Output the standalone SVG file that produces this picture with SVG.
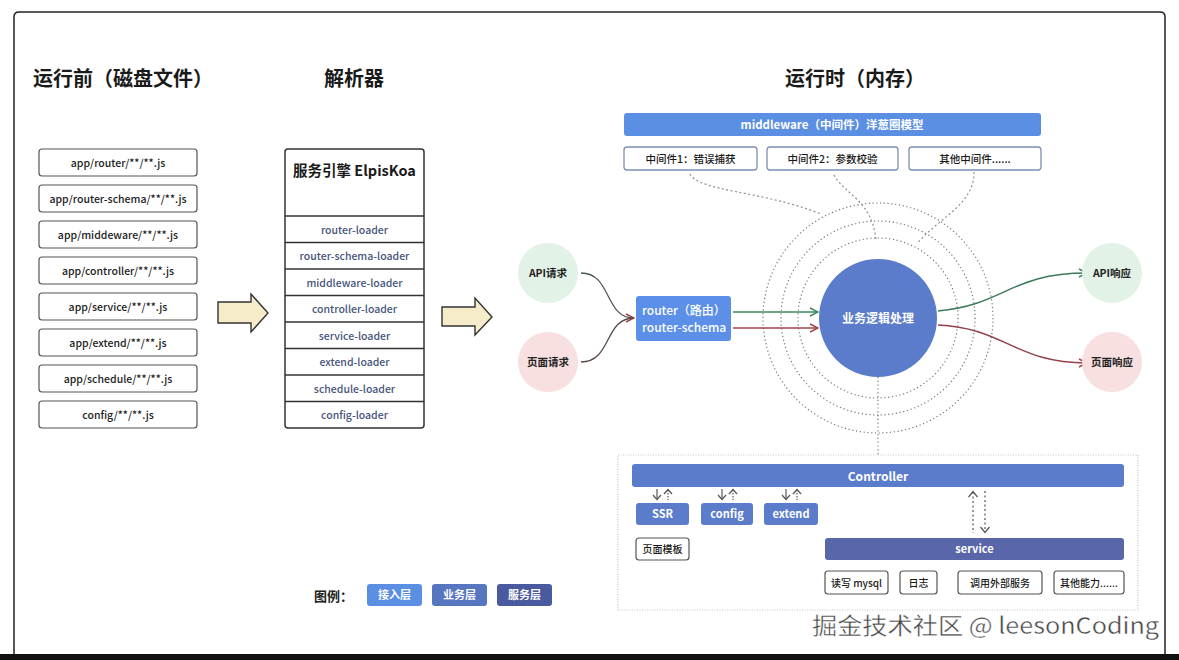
<svg xmlns="http://www.w3.org/2000/svg" width="1179" height="660" viewBox="0 0 1179 660">
<style>
text{font-family:"Noto Sans CJK SC","Noto Sans",sans-serif;}
.title{font-size:20px;font-weight:bold;fill:#1a1a1a;}
.fbox{fill:#fff;stroke:#555;stroke-width:1.2;}
.ft{font-size:10.5px;fill:#222;text-anchor:middle;font-weight:500;}
.lt{font-size:10.5px;fill:#46557a;text-anchor:middle;font-weight:500;}
.mbox{fill:#fff;stroke:#7d8fb2;stroke-width:1.3;}
.mt{font-size:10.5px;fill:#1a1a1a;text-anchor:middle;font-weight:500;}
.wt{fill:#fff;text-anchor:middle;font-weight:bold;}
.ring{fill:none;stroke:#777;stroke-width:1.2;stroke-dasharray:1.2 2.6;}
.dash{fill:none;stroke:#8a8f99;stroke-width:1.2;stroke-dasharray:2 2.5;}
.wbox{fill:#fff;stroke:#555;stroke-width:1.2;}
.st{font-size:10px;fill:#1a1a1a;text-anchor:middle;font-weight:500;}
.biz{fill:#5a7ccb;}
.arrow{fill:#f6ecca;stroke:#333;stroke-width:1.4;stroke-linejoin:miter;}
</style>
<defs>
<marker id="mg" viewBox="0 0 10 10" refX="9" refY="5" markerWidth="10" markerHeight="10" markerUnits="userSpaceOnUse" orient="auto"><path d="M1,1 L9,5 L1,9" fill="none" stroke="#3d8a5c" stroke-width="1.5"/></marker>
<marker id="mr" viewBox="0 0 10 10" refX="9" refY="5" markerWidth="10" markerHeight="10" markerUnits="userSpaceOnUse" orient="auto"><path d="M1,1 L9,5 L1,9" fill="none" stroke="#a5444a" stroke-width="1.5"/></marker>
<linearGradient id="yg" x1="0" y1="0" x2="1" y2="0"><stop offset="0" stop-color="#f9f1d2"/><stop offset="1" stop-color="#f1e2b6"/></linearGradient>
</defs>

<rect width="1179" height="660" fill="#fff"/>
<path d="M14,654 L14,17 Q14,12 19,12 L1160,12 Q1165,12 1165,17 L1165,654" fill="none" stroke="#222" stroke-width="1.5"/>
<rect x="0" y="654" width="1179" height="6" fill="#111"/>

<text class="title" x="33" y="86">运行前（磁盘文件）</text>
<text class="title" x="354" y="86" text-anchor="middle">解析器</text>
<text class="title" x="855" y="86" text-anchor="middle">运行时（内存）</text>

<g id="files">
<rect class="fbox" x="39" y="149" width="158" height="27" rx="3"/><text class="ft" x="118" y="166.5">app/router/**/**.js</text>
<rect class="fbox" x="39" y="185" width="158" height="27" rx="3"/><text class="ft" x="118" y="202.5">app/router-schema/**/**.js</text>
<rect class="fbox" x="39" y="221" width="158" height="27" rx="3"/><text class="ft" x="118" y="238.5">app/middeware/**/**.js</text>
<rect class="fbox" x="39" y="257" width="158" height="27" rx="3"/><text class="ft" x="118" y="274.5">app/controller/**/**.js</text>
<rect class="fbox" x="39" y="293" width="158" height="27" rx="3"/><text class="ft" x="118" y="310.5">app/service/**/**.js</text>
<rect class="fbox" x="39" y="329" width="158" height="27" rx="3"/><text class="ft" x="118" y="346.5">app/extend/**/**.js</text>
<rect class="fbox" x="39" y="365" width="158" height="27" rx="3"/><text class="ft" x="118" y="382.5">app/schedule/**/**.js</text>
<rect class="fbox" x="39" y="401" width="158" height="27" rx="3"/><text class="ft" x="118" y="418.5">config/**/**.js</text>
</g>

<g id="arrow1"><path class="arrow" fill="url(#yg)" d="M218,302 L251,302 L251,294 L268,313 L251,332 L251,323 L218,323 Z"/></g>
<g id="arrow2"><path class="arrow" fill="url(#yg)" d="M442,307 L475,307 L475,298 L492,317 L475,335 L475,326 L442,326 Z"/></g>

<g id="parser">
<rect x="285" y="149" width="139" height="279" rx="3" fill="#fff" stroke="#333" stroke-width="1.5"/>
<text x="354.5" y="176" text-anchor="middle" font-size="14.5" font-weight="bold" fill="#1a1a1a">服务引擎 ElpisKoa</text>
<g stroke="#333" stroke-width="1.3">
<line x1="285" y1="216" x2="424" y2="216"/><line x1="285" y1="242.5" x2="424" y2="242.5"/><line x1="285" y1="269" x2="424" y2="269"/><line x1="285" y1="295.5" x2="424" y2="295.5"/><line x1="285" y1="322" x2="424" y2="322"/><line x1="285" y1="348.5" x2="424" y2="348.5"/><line x1="285" y1="375" x2="424" y2="375"/><line x1="285" y1="401.5" x2="424" y2="401.5"/>
</g>
<text class="lt" x="354.5" y="233.5">router-loader</text>
<text class="lt" x="354.5" y="260">router-schema-loader</text>
<text class="lt" x="354.5" y="286.5">middleware-loader</text>
<text class="lt" x="354.5" y="313">controller-loader</text>
<text class="lt" x="354.5" y="339.5">service-loader</text>
<text class="lt" x="354.5" y="366">extend-loader</text>
<text class="lt" x="354.5" y="392.5">schedule-loader</text>
<text class="lt" x="354.5" y="419">config-loader</text>
</g>

<g id="middleware">
<rect x="624" y="113" width="417" height="23" rx="3" fill="#5b8fe3"/>
<text class="wt" x="832" y="129" font-size="11.5" font-weight="500">middleware（中间件）洋葱圈模型</text>
<rect class="mbox" x="624" y="147" width="133" height="23" rx="3"/><text class="mt" x="690.5" y="162.5">中间件1：错误捕获</text>
<rect class="mbox" x="767" y="147" width="131" height="23" rx="3"/><text class="mt" x="832.5" y="162.5">中间件2：参数校验</text>
<rect class="mbox" x="909" y="147" width="132" height="23" rx="3"/><text class="mt" x="975" y="162.5">其他中间件......</text>
</g>

<g id="onion">
<circle class="ring" cx="878" cy="318" r="115"/>
<circle class="ring" cx="878" cy="318" r="97"/>
<circle class="ring" cx="878" cy="318" r="80"/>
</g>

<g id="connectors">
<path class="dash" d="M690,174 C700,192 760,190 821,214"/>
<path class="dash" d="M834,175 C845,195 872,200 876,240"/>
<path class="dash" d="M974,172 C975,205 935,220 917,244"/>
<line class="ring" x1="878" y1="377" x2="878" y2="455"/>
<path d="M581,273 C612,273 604,318 634,318" fill="none" stroke="#4c5a52" stroke-width="1.3" marker-end="url(#mr)"/>
<path d="M581,362 C612,362 604,318 634,318" fill="none" stroke="#5a4a4a" stroke-width="1.3"/>
<line x1="733" y1="312" x2="818" y2="312" stroke="#3d8a5c" stroke-width="1.5" marker-end="url(#mg)"/>
<line x1="733" y1="328" x2="818" y2="328" stroke="#a5444a" stroke-width="1.5" marker-end="url(#mr)"/>
<path d="M938,311 C1005,305 1010,273 1087,273" fill="none" stroke="#3d7a5c" stroke-width="1.5" marker-end="url(#mg)"/>
<path d="M938,325 C1005,328 1015,363 1087,363" fill="none" stroke="#944048" stroke-width="1.5" marker-end="url(#mr)"/>
</g>

<g id="core">
<circle cx="878" cy="318" r="59" fill="#5a7ccb"/>
<text class="wt" x="878" y="323" font-size="12">业务逻辑处理</text>
</g>

<g id="api-req"><circle cx="548" cy="273" r="30" fill="#e2f2e7"/><text x="548" y="277" text-anchor="middle" font-size="10.5" font-weight="bold" fill="#222">API请求</text></g>
<g id="page-req"><circle cx="548" cy="362" r="30" fill="#f8e0e1"/><text x="548" y="366" text-anchor="middle" font-size="10.5" font-weight="bold" fill="#222">页面请求</text></g>
<g id="api-res"><circle cx="1112" cy="273" r="30" fill="#e2f2e7"/><text x="1112" y="277" text-anchor="middle" font-size="10.5" font-weight="bold" fill="#222">API响应</text></g>
<g id="page-res"><circle cx="1112" cy="362" r="30" fill="#f8e0e1"/><text x="1112" y="366" text-anchor="middle" font-size="10.5" font-weight="bold" fill="#222">页面响应</text></g>

<g id="router">
<rect x="636" y="296" width="95" height="45" rx="3" fill="#5b8fe8"/>
<text x="642" y="315" font-size="12" fill="#fff" font-weight="500">router（路由）</text>
<text x="642" y="332" font-size="12" fill="#fff" font-weight="500">router-schema</text>
</g>

<g id="runtime-box">
<rect x="618" y="455" width="520" height="155" fill="none" stroke="#c4c7cc" stroke-width="1.2" stroke-dasharray="1 1.5"/>
</g>

<g id="controller">
<rect x="632" y="464" width="492" height="23" rx="3" fill="#5a7ccb"/>
<text class="wt" x="878" y="481" font-size="12">Controller</text>
</g>

<g id="small-arrows" stroke="#555" stroke-width="1.2" fill="none">
<line x1="657" y1="489" x2="657" y2="499"/><path d="M653,495 L657,499.5 L661,495"/>
<line x1="668" y1="490" x2="668" y2="500" stroke-dasharray="1.5 1.5"/><path d="M664,494 L668,489.5 L672,494"/>
<line x1="722" y1="489" x2="722" y2="499"/><path d="M718,495 L722,499.5 L726,495"/>
<line x1="733" y1="490" x2="733" y2="500" stroke-dasharray="1.5 1.5"/><path d="M729,494 L733,489.5 L737,494"/>
<line x1="786" y1="489" x2="786" y2="499"/><path d="M782,495 L786,499.5 L790,495"/>
<line x1="797" y1="490" x2="797" y2="500" stroke-dasharray="1.5 1.5"/><path d="M793,494 L797,489.5 L801,494"/>
<line x1="973" y1="492" x2="973" y2="533" stroke-dasharray="2 2.5"/><path d="M968.5,497 L973,491.5 L977.5,497"/>
<line x1="985" y1="491" x2="985" y2="532" stroke-dasharray="2 2.5"/><path d="M980.5,527 L985,532.5 L989.5,527"/>
</g>

<g id="ssr"><rect class="biz" x="636" y="503" width="53" height="22" rx="3"/><text class="wt" x="662.5" y="518" font-size="11">SSR</text></g>
<g id="config"><rect class="biz" x="701" y="503" width="52" height="22" rx="3"/><text class="wt" x="727" y="518" font-size="11">config</text></g>
<g id="extend"><rect class="biz" x="764" y="503" width="54" height="22" rx="3"/><text class="wt" x="791" y="518" font-size="11">extend</text></g>
<g id="page-tpl"><rect class="wbox" x="636" y="538" width="53" height="22" rx="3"/><text class="st" x="662.5" y="553">页面模板</text></g>

<g id="service">
<rect x="825" y="538" width="299" height="22" rx="3" fill="#5966aa"/>
<text class="wt" x="974.5" y="553" font-size="11" font-weight="500">service</text>
</g>
<g id="mysql"><rect class="wbox" x="825" y="571" width="63" height="23" rx="3"/><text class="st" x="856.5" y="586.5">读写 mysql</text></g>
<g id="log"><rect class="wbox" x="900" y="571" width="37" height="23" rx="3"/><text class="st" x="918.5" y="586.5">日志</text></g>
<g id="external"><rect class="wbox" x="958" y="571" width="84" height="23" rx="3"/><text class="st" x="1000" y="586.5">调用外部服务</text></g>
<g id="others"><rect class="wbox" x="1054" y="571" width="70" height="23" rx="3"/><text class="st" x="1089" y="586.5">其他能力......</text></g>

<g id="legend">
<text x="314" y="601" font-size="13" font-weight="bold" fill="#222">图例：</text>
<rect x="367" y="584" width="55" height="22" rx="3" fill="#5b8fe3"/><text class="wt" x="394.5" y="599" font-size="11" font-weight="500">接入层</text>
<rect x="432" y="584" width="55" height="22" rx="3" fill="#5676c0"/><text class="wt" x="459.5" y="599" font-size="11" font-weight="500">业务层</text>
<rect x="497" y="584" width="55" height="22" rx="3" fill="#4a5a9e"/><text class="wt" x="524.5" y="599" font-size="11" font-weight="500">服务层</text>
</g>

<text x="812" y="634" font-size="23" fill="#444" stroke="#fff" stroke-width="0.4" textLength="347" lengthAdjust="spacingAndGlyphs">掘金技术社区 @ leesonCoding</text>
</svg>
